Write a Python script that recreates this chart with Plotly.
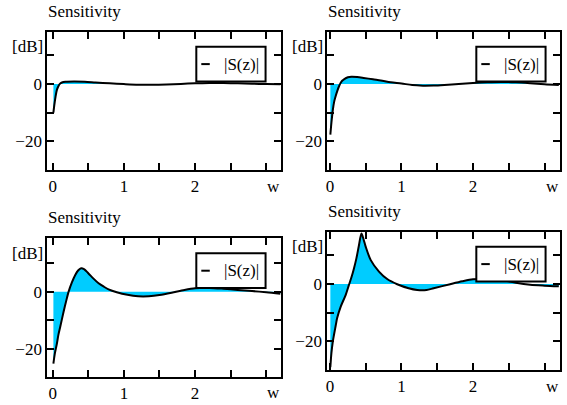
import plotly.graph_objects as go

W, H = 567, 405

# ---------------- data ----------------
w1 = [0.01, 0.025, 0.04, 0.06, 0.08, 0.10, 0.13, 0.18, 0.3, 0.45, 0.6, 0.8, 1.0, 1.2, 1.4, 1.6, 1.8, 2.0, 2.2, 2.4, 2.6, 2.8, 3.0, 3.2]
s1 = [-10, -7, -4.5, -2, -0.8, 0, 0.5, 0.75, 0.85, 0.75, 0.5, 0.2, -0.05, -0.25, -0.3, -0.2, 0.0, 0.2, 0.3, 0.3, 0.2, 0.05, -0.05, -0.1]

w2 = [0.005, 0.02, 0.04, 0.06, 0.08, 0.10, 0.125, 0.15, 0.17, 0.2, 0.25, 0.3, 0.38, 0.47, 0.6, 0.71, 0.85, 1.0, 1.15, 1.3, 1.45, 1.6, 1.8, 2.0, 2.2, 2.4, 2.6, 2.8, 3.0, 3.2]
s2 = [-17.7, -13.5, -9, -6, -4.2, -2.6, -0.9, 0.4, 1.1, 1.7, 2.3, 2.5, 2.4, 2.1, 1.6, 1.2, 0.6, 0.15, -0.4, -0.6, -0.55, -0.35, 0.0, 0.35, 0.6, 0.7, 0.55, 0.25, -0.1, -0.35]

w3 = [0.01, 0.03, 0.06, 0.08, 0.107, 0.154, 0.19, 0.224, 0.27, 0.317, 0.36, 0.40, 0.44, 0.5, 0.57, 0.645, 0.72, 0.785, 0.9, 1.05, 1.2, 1.35, 1.5, 1.67, 1.85, 2.0, 2.2, 2.4, 2.6, 2.8, 3.0, 3.2]
s3 = [-25, -21.5, -17.9, -15, -12.1, -6.9, -3.2, 0, 3.2, 5.8, 7.4, 8.1, 7.8, 6.4, 4.6, 2.9, 1.7, 0.8, -0.2, -1.1, -1.6, -1.6, -1.2, -0.4, 0.6, 1.2, 1.3, 1.0, 0.6, 0.2, -0.2, -0.7]

w4 = [0.005, 0.02, 0.04, 0.056, 0.08, 0.10, 0.15, 0.22, 0.265, 0.30, 0.335, 0.37, 0.405, 0.44, 0.47, 0.50, 0.57, 0.685, 0.80, 0.94, 1.1, 1.22, 1.35, 1.45, 1.68, 1.85, 2.0, 2.2, 2.4, 2.6, 2.8, 3.0, 3.2]
s4 = [-29, -24, -20, -17.7, -14.5, -11.9, -7.9, -3.8, -0.35, 2.3, 5.4, 9, 13.5, 17.6, 15.5, 12.9, 8.3, 4.3, 1.7, -0.1, -1.5, -2.1, -2.1, -1.5, -0.1, 0.9, 1.6, 1.7, 1.4, 0.4, -0.3, -0.6, -0.8]

x_tickvals = [0, 0.5, 1, 1.5, 2, 2.5, 3]
x_ticktext = ["0", "", "1", "", "2", "", ""]
y_tickvals = [-20, -10, 0, 10]
y_ticktext = ["\u221220", "", "0", ""]

title_text = "Sensitivity"
unit_text = "[dB]"
xlabel_text = "w"
legend_text = "|S(z)|"

FONT = "Liberation Serif"
FILL = "#00CCFF"

# ---------------- layout geometry (pixels) ----------------
# (left, right, top, bottom) of each plot frame
frames = [(45.5, 279.5, 31.7, 170.0),
          (326.5, 559.5, 31.7, 170.0),
          (45.5, 279.5, 238.3, 376.7),
          (326.5, 559.5, 231.7, 370.0)]
xranges = [[-0.075, 3.2], [-0.037, 3.21], [-0.075, 3.2], [-0.037, 3.21]]
yranges = [[-30, 18.2], [-30, 18.2], [-29.5, 18.5], [-30, 18.2]]
series = [(w1, s1), (w2, s2), (w3, s3), (w4, s4)]

def px(x):
    return x / W

def py(y):
    return 1 - y / H

fig = go.Figure()
shapes = []
annotations = []

for i, ((l, r, t, b), (wx, sy)) in enumerate(zip(frames, series)):
    n = "" if i == 0 else str(i + 1)
    xa, ya = "x" + n, "y" + n
    fig.add_trace(go.Scatter(
        x=wx, y=sy, xaxis=xa, yaxis=ya, mode="lines",
        line=dict(color="black", width=2, shape="spline", smoothing=0.8),
        fill="tozeroy", fillcolor=FILL, showlegend=False, hoverinfo="skip"))
    axis_common = dict(showline=True, mirror="allticks", linecolor="black", linewidth=2,
                       ticks="inside", ticklen=7, tickwidth=2, tickcolor="black",
                       showgrid=False, zeroline=False,
                       tickfont=dict(family=FONT, size=17, color="black"))
    fig.update_layout(**{
        "xaxis" + n: dict(domain=[px(l), px(r)], range=xranges[i], anchor=ya,
                          tickmode="array", tickvals=x_tickvals, ticktext=x_ticktext,
                          **axis_common),
        "yaxis" + n: dict(domain=[py(b), py(t)], range=yranges[i], anchor=xa,
                          tickmode="array", tickvals=y_tickvals, ticktext=y_ticktext,
                          **axis_common),
    })
    # title
    annotations.append(dict(text=title_text, x=px(l - 1.5), y=py(t - 20.5), xref="paper", yref="paper",
                            xanchor="left", yanchor="middle", showarrow=False,
                            font=dict(family=FONT, size=17, color="black")))
    # unit label
    annotations.append(dict(text=unit_text, x=px(l - 2), y=py(t + 15.3), xref="paper", yref="paper",
                            xanchor="right", yanchor="middle", showarrow=False,
                            font=dict(family=FONT, size=17, color="black")))
    # axis name
    annotations.append(dict(text=xlabel_text, x=px(r - 7.5), y=py(b + 16), xref="paper", yref="paper",
                            xanchor="center", yanchor="middle", showarrow=False,
                            font=dict(family=FONT, size=17, color="black")))
    # legend box
    bx0, bx1 = l + 149.5, l + 219
    by0, by1 = t + 15, t + 49.8
    shapes.append(dict(type="rect", xref="paper", yref="paper", layer="above",
                       x0=px(bx0), x1=px(bx1), y0=py(by1), y1=py(by0),
                       fillcolor="white", line=dict(color="black", width=2)))
    ymid = (by0 + by1) / 2
    shapes.append(dict(type="line", xref="paper", yref="paper", layer="above",
                       x0=px(bx0 + 5), x1=px(bx0 + 13.5), y0=py(ymid), y1=py(ymid),
                       line=dict(color="black", width=2)))
    annotations.append(dict(text=legend_text, x=px(bx0 + 45.5), y=py(ymid), xref="paper", yref="paper",
                            xanchor="center", yanchor="middle", showarrow=False,
                            font=dict(family=FONT, size=17, color="black")))

fig.update_layout(width=W, height=H, margin=dict(l=0, r=0, t=0, b=0),
                  paper_bgcolor="white", plot_bgcolor="white",
                  shapes=shapes, annotations=annotations,
                  font=dict(family=FONT, size=17, color="black"))

fig.write_html("out.html", config={"displayModeBar": False},
               post_script="document.body.style.margin='0px';document.body.style.padding='0px';")
